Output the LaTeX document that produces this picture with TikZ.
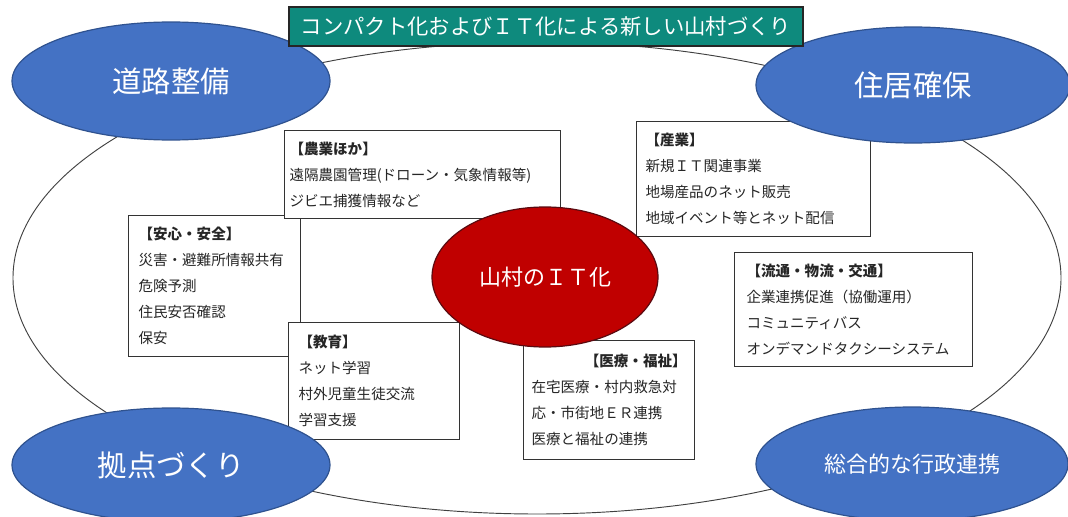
\documentclass[tikz,border=0pt]{standalone}
\usepackage{fontspec}
\setmainfont{Noto Sans CJK JP}
\usetikzlibrary{shapes.geometric}
\definecolor{goalblue}{HTML}{4472C4}
\definecolor{goalline}{HTML}{2F528F}
\definecolor{itred}{HTML}{C00000}
\definecolor{itline}{HTML}{5A0A10}
\definecolor{titleteal}{HTML}{0E8A7D}

\begin{document}
\begin{tikzpicture}[x=0.75pt,y=-0.75pt,
  goal/.style={ellipse, draw=goalline, line width=0.9pt, fill=goalblue, text=white, inner sep=0pt, font=\fontsize{22}{24}\selectfont},
  infobox/.style={rectangle, draw=black!80, line width=0.9pt, fill=white, text=black!85, align=left, inner ysep=0pt, anchor=north west, font=\fontsize{10.9}{19.5}\selectfont}]
\useasboundingbox (0,0) rectangle (1068,517);
\node[ellipse, draw=black!75, line width=0.7pt, minimum width=786pt, minimum height=354pt] (ring) at (537,278) {};
\node[infobox, inner xsep=7.5pt, text width=114pt, minimum height=105.75pt] (anshin) at (128,215) {\textbf{【安心・安全】}\\災害・避難所情報共有\\危険予測\\住民安否確認\\保安};
\node[infobox, inner xsep=3.75pt, text width=199.5pt, minimum height=66pt] (noka) at (284,130) {\textbf{【農業ほか】}\\遠隔農園管理(ドローン・気象情報等)\\ジビエ捕獲情報など};
\node[infobox, inner xsep=7.5pt, text width=113.25pt, minimum height=87.75pt] (kyoiku) at (288,322) {\textbf{【教育】}\\ネット学習\\村外児童生徒交流\\学習支援};
\node[infobox, inner xsep=6.75pt, text width=162pt, minimum height=86.25pt] (sangyo) at (636,121) {\textbf{【産業】}\\新規ＩＴ関連事業\\地場産品のネット販売\\地域イベント等とネット配信};
\node[infobox, inner xsep=9pt, text width=160.5pt, minimum height=85.5pt] (ryutsu) at (734,252) {\textbf{【流通・物流・交通】}\\企業連携促進（協働運用）\\コミュニティバス\\オンデマンドタクシーシステム};
\node[infobox, inner xsep=6pt, text width=116.25pt, minimum height=89.25pt] (iryo) at (523,340) {\hspace*{\fill}\textbf{【医療・福祉】}\\在宅医療・村内救急対\\応・市街地ＥＲ連携\\医療と福祉の連携};
\node[goal, minimum width=238.5pt, minimum height=88.5pt] (road) at (171,81) {道路整備};
\node[goal, minimum width=235.5pt, minimum height=87pt] (house) at (913,85) {住居確保};
\node[goal, minimum width=238.5pt, minimum height=85.5pt] (base) at (171,465) {拠点づくり};
\node[goal, minimum width=234pt, minimum height=85.5pt, font=\fontsize{16.5}{18}\selectfont] (admin) at (912,464) {総合的な行政連携};
\node[ellipse, draw=itline, line width=0.9pt, fill=itred, text=white, inner sep=0pt, minimum width=169.5pt, minimum height=105pt, font=\fontsize{16.5}{18}\selectfont] (it) at (545,277) {山村のＩＴ化};
\node[rectangle, draw=black!85, line width=1.3pt, fill=titleteal, text=white, inner sep=0pt, minimum width=385.5pt, minimum height=29pt, font=\fontsize{16}{18}\selectfont] (title) at (546,26.5) {コンパクト化およびＩＴ化による新しい山村づくり};
\end{tikzpicture}
\end{document}
